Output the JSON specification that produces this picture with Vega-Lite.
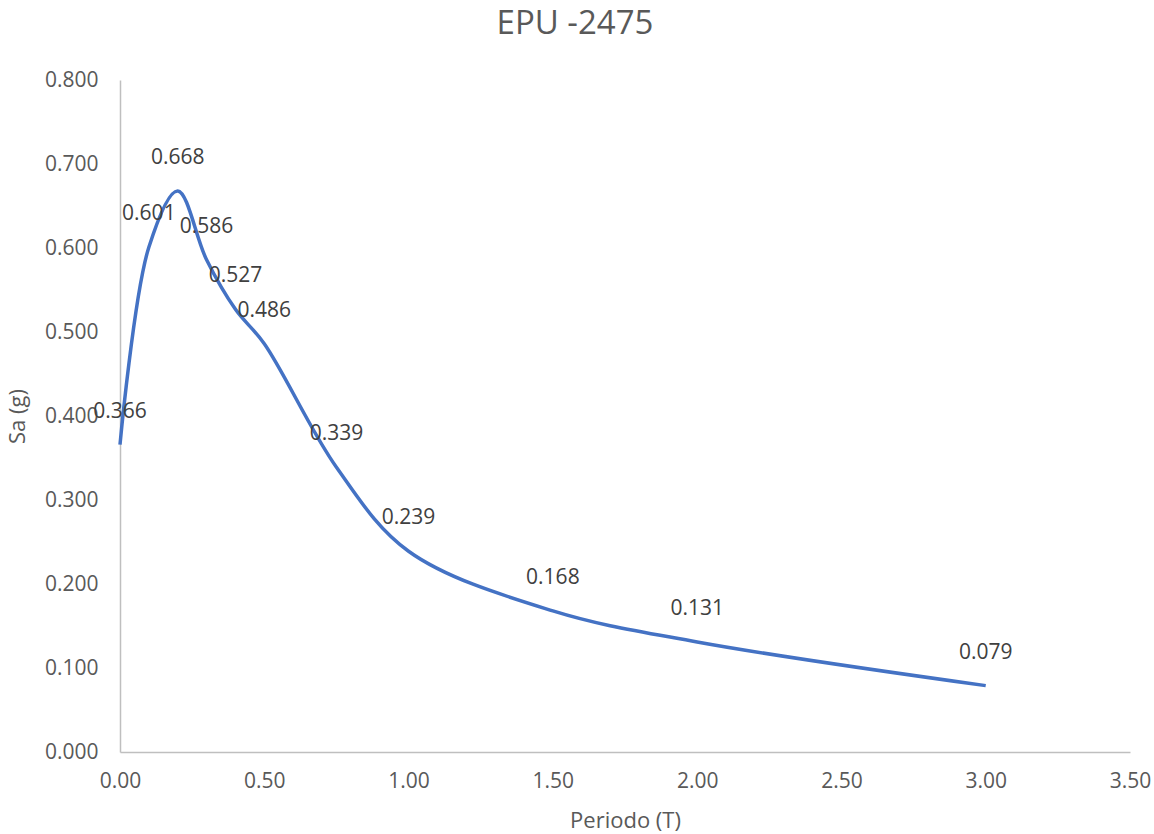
{
  "$schema": "https://vega.github.io/schema/vega-lite/v6.json",
  "autosize": "none",
  "width": 1010,
  "height": 672,
  "padding": {"left": 120, "top": 80, "right": 24, "bottom": 82},
  "background": "white",
  "title": {
    "text": "EPU -2475",
    "fontSize": 33,
    "font": "Open Sans",
    "fontWeight": "normal",
    "color": "#595959",
    "anchor": "middle",
    "dx": -50,
    "offset": 28
  },
  "config": {
    "view": {"stroke": null},
    "font": "Open Sans",
    "axis": {
      "grid": false,
      "ticks": false,
      "labelFlush": false,
      "domainColor": "#BFBFBF",
      "domainWidth": 1.5,
      "labelColor": "#595959",
      "labelFontSize": 21,
      "labelFont": "Open Sans",
      "titleColor": "#595959",
      "titleFontSize": 22,
      "titleFont": "Open Sans",
      "titleFontWeight": "normal"
    }
  },
  "data": {
    "values": [
      {"T": 0.0, "Sa": 0.366},
      {"T": 0.1, "Sa": 0.601},
      {"T": 0.2, "Sa": 0.668},
      {"T": 0.3, "Sa": 0.586},
      {"T": 0.4, "Sa": 0.527},
      {"T": 0.5, "Sa": 0.486},
      {"T": 0.75, "Sa": 0.339},
      {"T": 1.0, "Sa": 0.239},
      {"T": 1.5, "Sa": 0.168},
      {"T": 2.0, "Sa": 0.131},
      {"T": 3.0, "Sa": 0.079}
    ]
  },
  "encoding": {
    "x": {
      "field": "T",
      "type": "quantitative",
      "title": "Periodo (T)",
      "scale": {"domain": [0, 3.5], "nice": false, "zero": true},
      "axis": {"values": [0, 0.5, 1, 1.5, 2, 2.5, 3, 3.5], "format": ".2f", "labelPadding": 18, "titlePadding": 19}
    },
    "y": {
      "field": "Sa",
      "type": "quantitative",
      "title": "Sa (g)",
      "scale": {"domain": [0, 0.8], "nice": false},
      "axis": {"values": [0, 0.1, 0.2, 0.3, 0.4, 0.5, 0.6, 0.7, 0.8], "format": ".3f", "labelPadding": 22, "titleX": -103, "titleY": 336, "titleBaseline": "middle", "titleAlign": "center", "titleAngle": -90}
    }
  },
  "layer": [
    {
      "mark": {"type": "line", "interpolate": "catmull-rom", "color": "#4472C4", "strokeWidth": 3.5}
    },
    {
      "mark": {"type": "text", "fontSize": 21, "font": "Open Sans", "color": "#404040", "dy": -33, "align": "center", "baseline": "middle"},
      "encoding": {"text": {"field": "Sa", "type": "quantitative", "format": ".3f"}}
    }
  ]
}
